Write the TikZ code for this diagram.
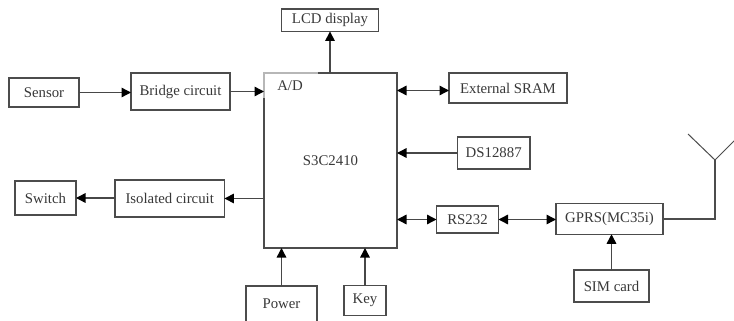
\documentclass[tikz,border=0pt]{standalone}
\usepackage{fontspec}
\setmainfont{Liberation Serif}
\usetikzlibrary{arrows.meta}
\tikzset{
  box/.style={draw=black!70,line width=1.45pt,inner sep=0pt,outer sep=0pt,align=center,text=black!78,font=\fontsize{14.8}{17}\selectfont},
  lbl/.style={inner sep=0pt,outer sep=0pt,text=black!78,font=\fontsize{14.8}{17}\selectfont},
  conn/.style={draw=black!72,line width=1.45pt,-{Triangle[length=9.5pt,width=9.5pt,color=black]}},
  bi/.style={draw=black!72,line width=1.45pt,{Triangle[length=9.5pt,width=9.5pt,color=black]}-{Triangle[length=9.5pt,width=9.5pt,color=black]}},
  plain/.style={draw=black!70,line width=1.45pt},
  faint/.style={draw=white,line width=2pt,opacity=.6}
}
\begin{document}
\begin{tikzpicture}[x=1pt,y=-1pt]
\useasboundingbox (0,0) rectangle (734,321);
\clip (0,0) rectangle (734,321);
\fill[white] (0,0) rectangle (734,321);
\node[box,minimum width=96.5pt,minimum height=22.5pt] (lcd) at (330,20.2) {LCD display};
\node[box,minimum width=70pt,minimum height=29pt] (sensor) at (44,92.5) {Sensor};
\node[box,minimum width=99pt,minimum height=37pt] (bridge) at (180.5,91.5) {Bridge circuit};
\node[box,minimum width=133pt,minimum height=175pt] (main) at (330.5,160.5) {S3C2410};
\draw[faint] (264,98) -- (main.north west) -- (318,73);
\node[lbl] (ad) at (290,85.5) {A/D};
\node[box,minimum width=61pt,minimum height=34pt] (switch) at (45.5,198) {Switch};
\node[box,minimum width=109.5pt,minimum height=37pt] (iso) at (169.7,198.5) {Isolated circuit};
\node[box,minimum width=71pt,minimum height=44pt,text height=18pt,text depth=17pt] (power) at (281.5,308) {Power};
\node[box,minimum width=42pt,minimum height=30pt] (key) at (365,300.5) {Key};
\node[box,minimum width=118pt,minimum height=30pt] (sram) at (508,88) {External SRAM};
\node[box,minimum width=72.5pt,minimum height=32pt] (ds) at (493.7,153) {DS12887};
\node[box,minimum width=62pt,minimum height=27pt] (rs) at (467.5,219.5) {RS232};
\node[box,minimum width=107pt,minimum height=30.5pt] (gprs) at (609.5,219) {GPRS(MC35i)};
\node[box,minimum width=75pt,minimum height=32pt] (sim) at (611.5,286) {SIM card};
\coordinate (ant) at (715,160);
\coordinate (antL) at (688,134);
\coordinate (antR) at (740,135);
\coordinate (sramw) at ([yshift=-2.5pt]sram.west);
\draw[conn] (main.north -| lcd.south) -- (lcd.south);
\draw[conn] (sensor.east) -- (sensor.east -| bridge.west);
\draw[conn] (bridge.east) -- (bridge.east -| main.west);
\draw[conn] (iso.west |- switch.east) -- (switch.east);
\draw[conn] (main.west |- iso.east) -- (iso.east);
\draw[conn] (power.north) -- (power.north |- main.south);
\draw[conn] (key.north) -- (key.north |- main.south);
\draw[bi] (main.east |- sramw) -- (sramw);
\draw[conn] (ds.west) -- (ds.west -| main.east);
\draw[bi] (main.east |- rs.west) -- (rs.west);
\draw[bi] (rs.east) -- (rs.east -| gprs.west);
\draw[conn] (sim.north) -- (sim.north |- gprs.south);
\draw[plain] (gprs.east) -- (gprs.east -| ant) -- (ant);
\draw[plain,line width=1pt] (antL) -- (ant) -- (antR);
\end{tikzpicture}
\end{document}
